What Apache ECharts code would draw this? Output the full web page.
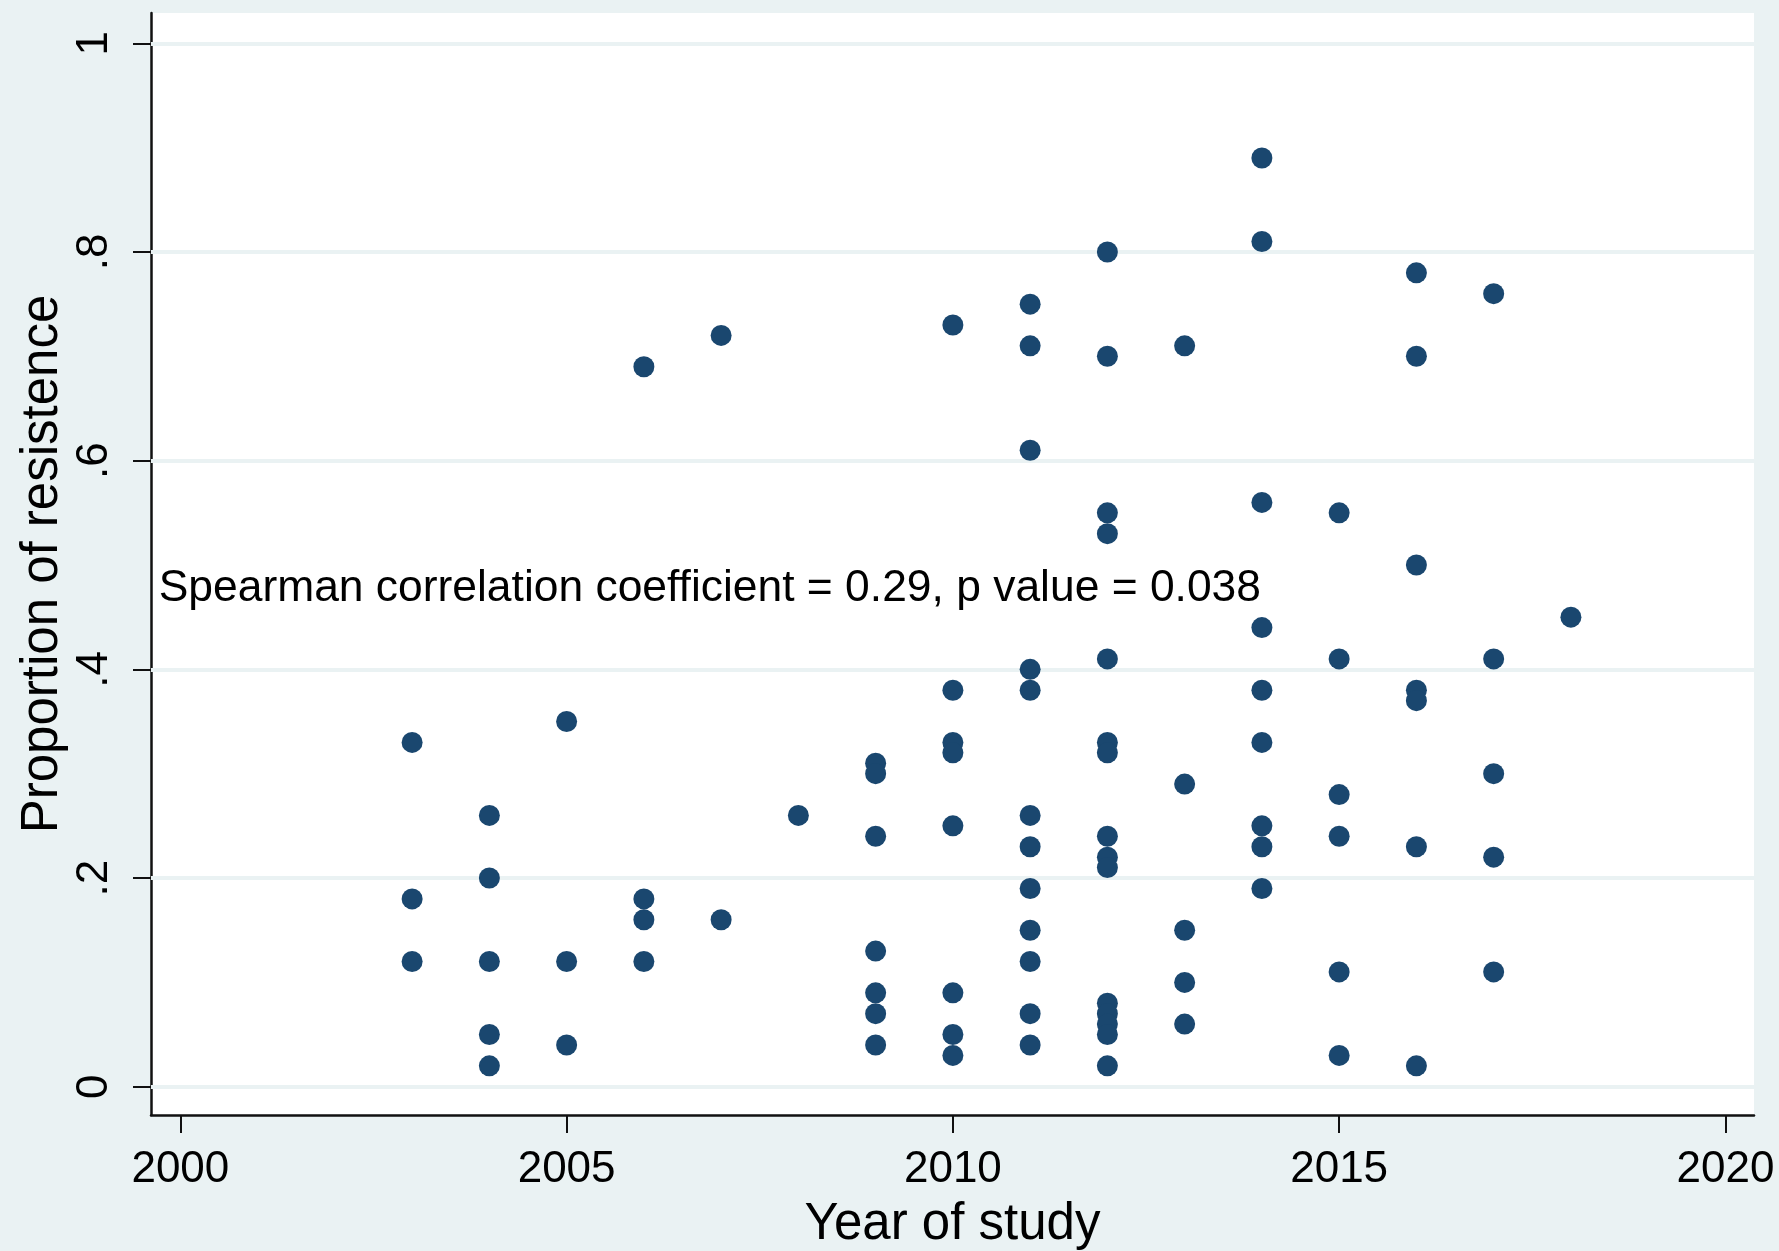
<!DOCTYPE html>
<html>
<head>
<meta charset="utf-8">
<title>Proportion of resistence by year of study</title>
<script src="https://cdn.jsdelivr.net/npm/echarts@6/dist/echarts.min.js"></script>
<style>
  html, body { margin: 0; padding: 0; background: #eaf2f3; }
  #chart { width: 1779px; height: 1251px; }
</style>
</head>
<body>
<div id="chart"></div>
<script>
// one entry per study: year and proportion of resistance
const studyYear = [
  2003, 2003, 2003,
  2004, 2004, 2004, 2004, 2004,
  2005, 2005, 2005,
  2006, 2006, 2006, 2006,
  2007, 2007,
  2008,
  2009, 2009, 2009, 2009, 2009, 2009, 2009,
  2010, 2010, 2010, 2010, 2010, 2010, 2010, 2010,
  2011, 2011, 2011, 2011, 2011, 2011, 2011, 2011, 2011, 2011, 2011, 2011,
  2012, 2012, 2012, 2012, 2012, 2012, 2012, 2012, 2012, 2012, 2012, 2012, 2012, 2012, 2012,
  2013, 2013, 2013, 2013, 2013,
  2014, 2014, 2014, 2014, 2014, 2014, 2014, 2014, 2014,
  2015, 2015, 2015, 2015, 2015, 2015,
  2016, 2016, 2016, 2016, 2016, 2016, 2016,
  2017, 2017, 2017, 2017, 2017,
  2018
]
const resistance = [
  0.33, 0.18, 0.12,
  0.26, 0.20, 0.12, 0.05, 0.02,
  0.35, 0.12, 0.04,
  0.69, 0.18, 0.16, 0.12,
  0.72, 0.16,
  0.26,
  0.31, 0.30, 0.24, 0.13, 0.09, 0.07, 0.04,
  0.73, 0.38, 0.33, 0.32, 0.25, 0.09, 0.05, 0.03,
  0.75, 0.71, 0.61, 0.40, 0.38, 0.26, 0.23, 0.19, 0.15, 0.12, 0.07, 0.04,
  0.80, 0.70, 0.55, 0.53, 0.41, 0.33, 0.32, 0.24, 0.22, 0.21, 0.08, 0.07, 0.06, 0.05, 0.02,
  0.71, 0.29, 0.15, 0.10, 0.06,
  0.89, 0.81, 0.56, 0.44, 0.38, 0.33, 0.25, 0.23, 0.19,
  0.55, 0.41, 0.28, 0.24, 0.11, 0.03,
  0.78, 0.70, 0.50, 0.38, 0.37, 0.23, 0.02,
  0.76, 0.41, 0.30, 0.22, 0.11,
  0.45
]
const xTicks = [2000, 2005, 2010, 2015, 2020]
const yTicks = [0, 0.2, 0.4, 0.6, 0.8, 1]
const yTickLabels = ['0', '.2', '.4', '.6', '.8', '1']
const noteText = 'Spearman correlation coefficient = 0.29, p value = 0.038'
const notePos = [1999.72, 0.477]

const font = 'Arial, "Liberation Sans", sans-serif'
const chart = echarts.init(document.getElementById('chart'))

const points = studyYear.map((y, i) => [y, resistance[i]])

chart.setOption({
  backgroundColor: '#eaf2f3',
  animation: false,
  textStyle: { fontFamily: font, color: '#000' },
  grid: {
    left: 151,
    right: 25,
    top: 13,
    bottom: 136,
    outerBoundsMode: 'none',
    show: true,
    backgroundColor: '#ffffff',
    borderWidth: 0
  },
  xAxis: {
    type: 'value',
    min: 1999.62,
    max: 2020.37,
    axisLine: { show: true, onZero: false, lineStyle: { color: '#111', width: 2.5 } },
    axisTick: { show: true, length: 18, customValues: xTicks, lineStyle: { color: '#111', width: 2 } },
    axisLabel: {
      customValues: xTicks,
      fontSize: 44,
      margin: 33,
      color: '#000',
      fontFamily: font,
      formatter: v => String(Math.round(v))
    },
    splitLine: { show: false },
    name: 'Year of study',
    nameLocation: 'middle',
    nameGap: 84,
    nameMoveOverlap: false,
    nameTextStyle: { fontSize: 51, color: '#000', fontFamily: font }
  },
  yAxis: {
    type: 'value',
    min: -0.0271,
    max: 1.029,
    axisLine: { show: true, onZero: false, lineStyle: { color: '#111', width: 2.5 } },
    axisTick: { show: true, length: 18, customValues: yTicks, lineStyle: { color: '#111', width: 2 } },
    axisLabel: {
      customValues: yTicks,
      rotate: 90,
      fontSize: 44,
      margin: 34,
      color: '#000',
      fontFamily: font,
      formatter: function (v) {
        const i = yTicks.findIndex(t => Math.abs(t - v) < 1e-6)
        return i >= 0 ? yTickLabels[i] : ''
      }
    },
    splitLine: { show: false },
    name: 'Proportion of resistence',
    nameLocation: 'middle',
    nameRotate: 90,
    nameGap: 83,
    nameMoveOverlap: false,
    nameTextStyle: { fontSize: 51, color: '#000', fontFamily: font }
  },
  series: [
    {
      // gridlines and annotation, kept below the points
      type: 'scatter',
      z: 1,
      data: [],
      silent: true,
      markLine: {
        silent: true,
        symbol: ['none', 'none'],
        label: { show: false },
        lineStyle: { color: '#eaf2f3', width: 4, type: 'solid' },
        data: yTicks.map(v => ({ yAxis: v }))
      },
      markPoint: {
        silent: true,
        symbol: 'circle',
        symbolSize: 0,
        itemStyle: { color: 'transparent' },
        label: {
          show: true,
          position: 'right',
          distance: 0,
          fontSize: 44.4,
          color: '#000',
          fontFamily: font,
          formatter: noteText
        },
        data: [{ coord: notePos }]
      }
    },
    {
      type: 'scatter',
      z: 5,
      symbol: 'circle',
      symbolSize: 21,
      itemStyle: { color: '#1a476f', opacity: 1 },
      data: points
    }
  ]
})

window.addEventListener('resize', () => {
  chart.resize()
})
</script>
</body>
</html>
